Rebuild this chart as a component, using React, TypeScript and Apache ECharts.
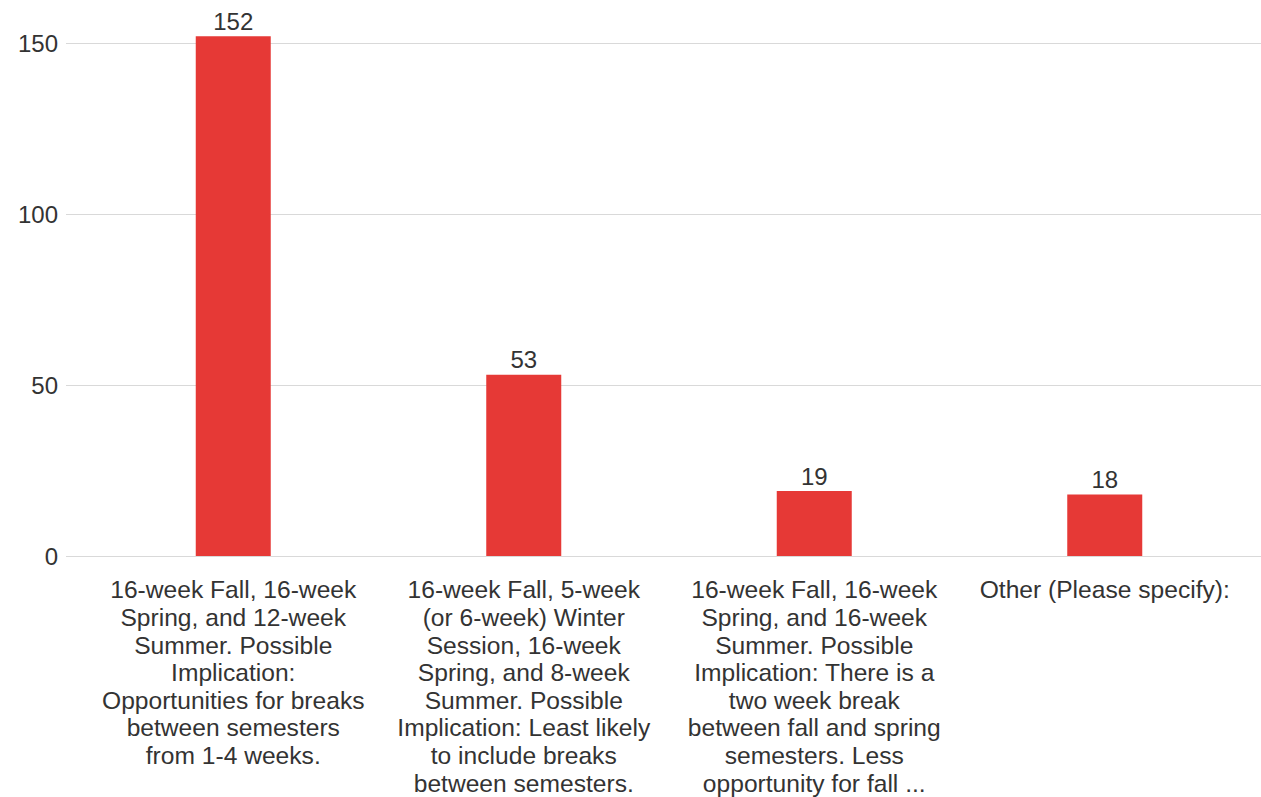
import React, { useEffect, useRef } from "react";
import * as echarts from "echarts";

const categories: string[] = [
  "16-week Fall, 16-week\nSpring, and 12-week\nSummer. Possible\nImplication:\nOpportunities for breaks\nbetween semesters\nfrom 1-4 weeks.",
  "16-week Fall, 5-week\n(or 6-week) Winter\nSession, 16-week\nSpring, and 8-week\nSummer. Possible\nImplication: Least likely\nto include breaks\nbetween semesters.",
  "16-week Fall, 16-week\nSpring, and 16-week\nSummer. Possible\nImplication: There is a\ntwo week break\nbetween fall and spring\nsemesters. Less\nopportunity for fall ...",
  "Other (Please specify):",
];
const values: number[] = [152, 53, 19, 18];
const yTicks: number[] = [0, 50, 100, 150];

const FONT = "Liberation Sans";
const TEXT = "#333333";

export default function App() {
  const ref = useRef<HTMLDivElement>(null);
  useEffect(() => {
    if (!ref.current) return;
    const chart = echarts.init(ref.current, undefined, { renderer: "svg" });
    chart.setOption({
      animation: false,
      textStyle: { fontFamily: FONT },
      grid: [
        { left: 66, right: 0, top: 43, bottom: 241 },
        { left: 88, right: 11, top: 43, bottom: 241 },
      ],
      xAxis: [
        { type: "category", gridIndex: 0, data: categories, show: false },
        {
          type: "category",
          gridIndex: 1,
          data: categories,
          axisLine: { show: false },
          axisTick: { show: false },
          axisLabel: {
            interval: 0,
            color: TEXT,
            fontSize: 24.6,
            fontFamily: FONT,
            lineHeight: 27.6,
            margin: 20,
            align: "center",
          },
        },
      ],
      yAxis: [
        {
          type: "value",
          gridIndex: 0,
          min: yTicks[0],
          max: yTicks[yTicks.length - 1],
          interval: 50,
          axisLine: { show: false },
          axisTick: { show: false },
          axisLabel: { color: TEXT, fontSize: 24, fontFamily: FONT, margin: 8 },
          splitLine: { lineStyle: { color: "#d9d9d9", width: 1 } },
        },
        {
          type: "value",
          gridIndex: 1,
          min: yTicks[0],
          max: yTicks[yTicks.length - 1],
          interval: 50,
          show: false,
          splitLine: { show: false },
        },
      ],
      series: [
        {
          type: "bar",
          xAxisIndex: 1,
          yAxisIndex: 1,
          data: values,
          barWidth: 75,
          clip: false,
          itemStyle: { color: "#e63936" },
          label: {
            show: true,
            position: "top",
            distance: 3,
            color: TEXT,
            fontSize: 24,
            fontFamily: FONT,
          },
        },
      ],
    });
    return () => chart.dispose();
  }, []);
  return (
    <div
      ref={ref}
      style={{ position: "fixed", left: 0, top: 0, width: 1261, height: 797, background: "#fff" }}
    />
  );
}
